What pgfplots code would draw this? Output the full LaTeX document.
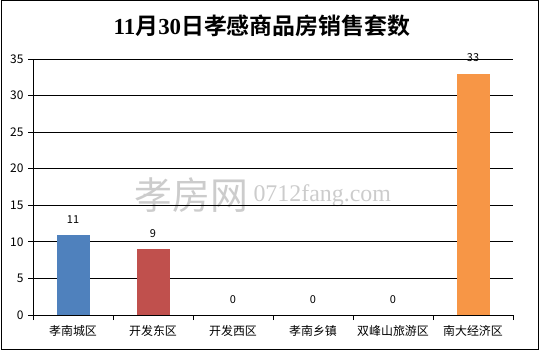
\documentclass[border=0pt]{standalone}
\usepackage{fontspec}
\usepackage{pgfplots}
\pgfplotsset{compat=1.18}
\setmainfont{Noto Sans CJK SC}
\newfontfamily\cjkbold{Noto Sans CJK SC Bold}
\newfontfamily\serifnum{Liberation Serif}
\definecolor{barblue}{HTML}{4F81BD}
\definecolor{barred}{HTML}{C0504D}
\definecolor{barorange}{HTML}{F79646}
\begin{document}
\begin{tikzpicture}[x=1bp,y=1bp]
\useasboundingbox (0,0) rectangle (540,351);
\draw[line width=1bp] (1,2) rectangle (538,350);
% title
\node[font=\fontsize{23}{26}\selectfont] at (262,325)
  {{\serifnum\bfseries 11}{\cjkbold 月}{\serifnum\bfseries 30}{\cjkbold 日孝感商品房销售套数}};
% watermark
\node[text=black!20, font=\fontsize{38}{40}\selectfont, anchor=east] at (252,156) {孝房网};
\node[text=black!20, font=\serifnum\fontsize{24}{26}\selectfont, anchor=west] at (250,155) {0712fang.com};
\begin{axis}[
  at={(33bp,36bp)}, anchor=south west,
  scale only axis, width=480bp, height=256bp,
  xmin=-0.5, xmax=5.5, ymin=0, ymax=35,
  axis x line*=bottom, axis y line*=left,
  axis line style={black, line width=0.8bp},
  tick align=outside, major tick length=5bp,
  tick style={black, line width=0.8bp},
  ytick={0,5,...,35},
  ymajorgrids, grid style={black, line width=0.8bp},
  xtick={-0.5,0.5,1.5,2.5,3.5,4.5,5.5}, xticklabels={},
  extra x ticks={0,1,2,3,4,5},
  extra x tick labels={孝南城区,开发东区,开发西区,孝南乡镇,双峰山旅游区,南大经济区},
  extra x tick style={major tick length=0pt, grid=none},
  ticklabel style={font=\fontsize{12}{14}\selectfont},
  x tick label style={yshift=-7bp},
  y tick label style={xshift=-1bp},
  /pgf/number format/assume math mode=true,
  ybar, bar width=33bp,
  nodes near coords,
  every node near coord/.append style={font=\fontsize{11}{13}\selectfont, yshift=8bp},
]
\addplot[fill=barblue, draw=none, bar shift=0pt] coordinates {(0,11)};
\addplot[fill=barred, draw=none, bar shift=0pt] coordinates {(1,9)};
\addplot[fill=none, draw=none, bar shift=0pt] coordinates {(2,0) (3,0) (4,0)};
\addplot[fill=barorange, draw=none, bar shift=0pt] coordinates {(5,33)};
\end{axis}
\end{tikzpicture}
\end{document}
